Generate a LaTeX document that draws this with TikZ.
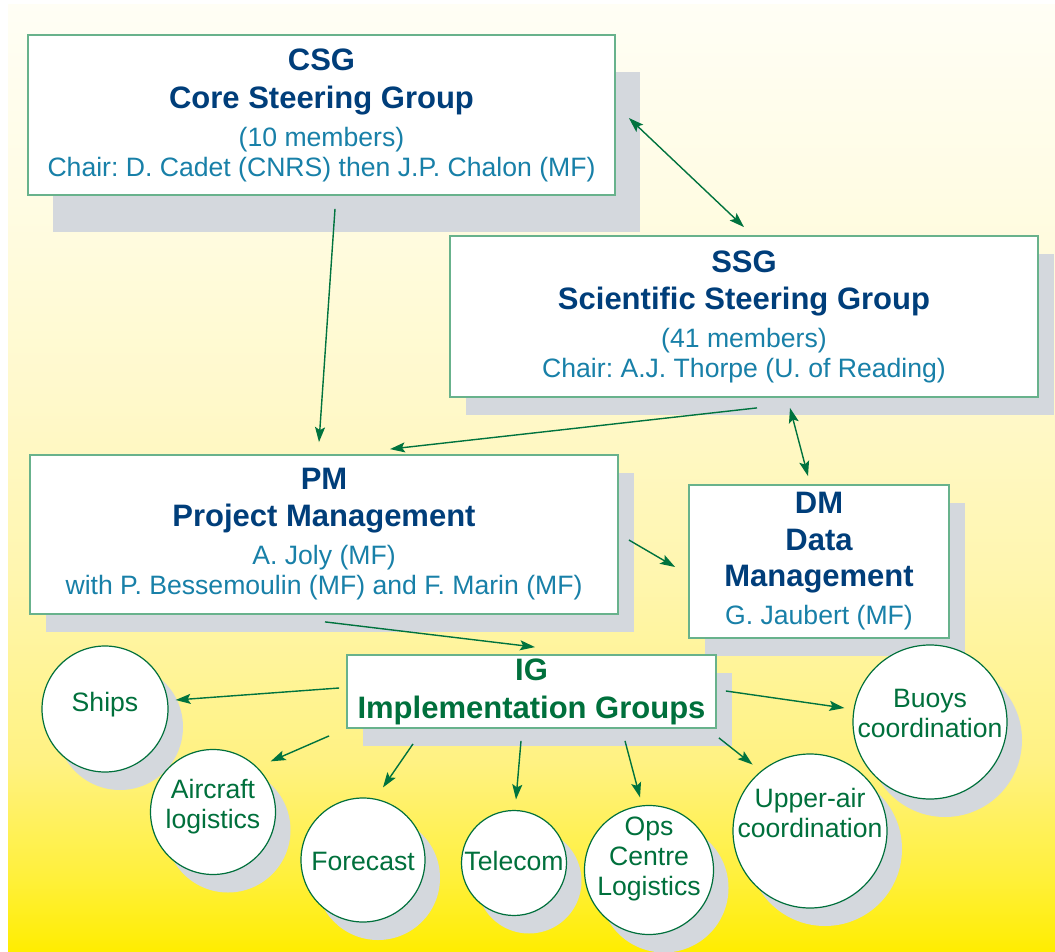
\documentclass[tikz,border=0pt]{standalone}
\usepackage{fontspec}
\setmainfont{Liberation Sans}
\usetikzlibrary{arrows.meta,shadows}
\frenchspacing

\definecolor{navy}{RGB}{0,62,122}
\definecolor{subblue}{RGB}{24,128,168}
\definecolor{igreen}{RGB}{0,112,60}
\definecolor{arrowgreen}{RGB}{0,115,62}
\definecolor{boxline}{RGB}{104,178,140}
\definecolor{shadowgray}{RGB}{212,216,221}

% background fade, bottom (25bp) to top (75bp)
\definecolor{bga}{RGB}{255,237,0}
\definecolor{bgb}{RGB}{255,240,60}
\definecolor{bgc}{RGB}{255,242,130}
\definecolor{bgd}{RGB}{255,246,175}
\definecolor{bge}{RGB}{255,249,205}
\definecolor{bgf}{RGB}{255,252,228}
\definecolor{bgg}{RGB}{255,254,245}
\pgfdeclareverticalshading{bgfade}{100bp}{color(0bp)=(bga); color(25bp)=(bga);
  color(29bp)=(bgb); color(35bp)=(bgc); color(45bp)=(bgd); color(55bp)=(bge);
  color(65bp)=(bgf); color(75bp)=(bgg); color(100bp)=(bgg)}

\newcommand{\grouptitle}[2][navy]{{\fontsize{31}{38}\selectfont\bfseries\color{#1}#2}}

\begin{document}
\begin{tikzpicture}[x=1pt, y=-1pt, >={Stealth[length=15pt,width=10pt,inset=3pt]}]

\tikzset{
  panel/.style={rectangle, draw=boxline, line width=1.8pt, fill=white, align=center,
    inner sep=0pt, text=subblue, font=\fontsize{26.6}{30}\selectfont},
  box/.style={panel, drop shadow={shadow xshift=16pt, shadow yshift=-18pt,
    fill=shadowgray, opacity=1}},
  bigbox/.style={panel, drop shadow={shadow xshift=25pt, shadow yshift=-37pt,
    fill=shadowgray, opacity=1}},
  grp/.style={circle, draw=igreen, line width=1.2pt, fill=white, inner sep=0pt,
    drop shadow={shadow xshift=15pt, shadow yshift=-18pt, fill=shadowgray, opacity=1}},
  grptext/.style={align=center, text=igreen, font=\fontsize{26.6}{30}\selectfont},
  link/.style={draw=arrowgreen, line width=1.4pt}
}

\useasboundingbox (0,0) rectangle (1055,952);
\shade[shading=bgfade] (8,5) rectangle (1055,952);

% steering and management boxes
\node[bigbox, minimum width=587pt, minimum height=160pt] (csg) at (321.5,115)
  {\grouptitle{CSG}\\[8pt]\grouptitle{Core Steering Group}\\[8pt](10 members)\\
   Chair: D. Cadet (CNRS) then J.P. Chalon (MF)};
\node[box, minimum width=588pt, minimum height=161pt] (ssg) at (744,316.5)
  {\grouptitle{SSG}\\[7pt]\grouptitle{Scientific Steering Group}\\[8pt](41 members)\\
   Chair: A.J. Thorpe (U. of Reading)};
\node[box, minimum width=588pt, minimum height=159pt] (pm) at (324,534.5)
  {\grouptitle{PM}\\[7pt]\grouptitle{Project Management}\\[8pt]A. Joly (MF)\\
   with P. Bessemoulin (MF) and F. Marin (MF)};
\node[box, minimum width=260pt, minimum height=153pt] (dm) at (819,561.5)
  {\grouptitle{DM}\\[7pt]\grouptitle{Data}\\[6pt]\grouptitle{Management}\\[8pt]G. Jaubert (MF)};
\node[box, minimum width=369pt, minimum height=73pt] (ig) at (531.5,691.5)
  {\grouptitle[igreen]{IG}\\[8pt]\grouptitle[igreen]{Implementation Groups}};

% implementation groups
\node[grp, minimum size=126pt, label={[grptext, yshift=4pt]center:Ships}] (ships) at (105,709) {};
\node[grp, minimum size=125pt, label={[grptext, yshift=5pt]center:Aircraft\\logistics}] (air) at (213,812) {};
\node[grp, minimum size=124pt, label={[grptext, yshift=-1pt]center:Forecast}] (fore) at (363,860) {};
\node[grp, minimum size=105pt, label={[grptext, yshift=2pt]center:Telecom}] (tele) at (514,863) {};
\node[grp, minimum size=129pt, label={[grptext, yshift=11pt]center:Ops\\Centre\\Logistics}] (ops) at (649,870) {};
\node[grp, minimum size=154pt, label={[grptext, yshift=9pt]center:Buoys\\coordination}] (buoys) at (930,722) {};
\node[grp, minimum size=154pt, label={[grptext, yshift=18pt]center:Upper-air\\coordination}] (upper) at (810,831) {};

% links
\draw[link, <->] ([xshift=13pt,yshift=-3pt]csg.east) -- ([yshift=8pt]ssg.north);
\draw[link, ->] ([xshift=13.5pt,yshift=-13pt]csg.south) -- ([xshift=-5pt,yshift=12pt]pm.north);
\draw[link, ->] ([xshift=13pt,yshift=-10pt]ssg.south) -- ([xshift=66pt,yshift=5pt]pm.north);
\draw[link, <->] ([xshift=46pt,yshift=-10pt]ssg.south) -- ([xshift=-11pt,yshift=8pt]dm.north);
\draw[link, ->] ([xshift=10pt,yshift=-5.5pt]pm.east) -- ([xshift=-13pt,yshift=-5.5pt]dm.west);
\draw[link, ->] ([xshift=1pt,yshift=-7pt]pm.south) -- ([xshift=3.5pt,yshift=7pt]ig.north);

\draw[link, ->] ([xshift=-7pt,yshift=3.5pt]ig.west) -- ([xshift=7pt,yshift=9pt]ships.east);
\draw[link, ->] ([xshift=-17pt,yshift=-7pt]ig.south west) -- ([xshift=13pt,yshift=6pt]air.north east);
\draw[link, ->] ([xshift=-118.5pt,yshift=-15pt]ig.south) -- ([xshift=20pt,yshift=10pt]fore.north);
\draw[link, ->] ([xshift=-10.5pt,yshift=-12pt]ig.south) -- ([xshift=2pt,yshift=10.5pt]tele.north);
\draw[link, ->] ([xshift=93.5pt,yshift=-12pt]ig.south) -- ([xshift=-9pt,yshift=7.5pt]ops.north);
\draw[link, ->] ([xshift=2pt,yshift=-9pt]ig.south east) -- ([xshift=-2.6pt,yshift=11.6pt]upper.north west);
\draw[link, ->] ([xshift=9pt,yshift=0.5pt]ig.east) -- ([xshift=-8pt,yshift=14pt]buoys.west);

\end{tikzpicture}
\end{document}
